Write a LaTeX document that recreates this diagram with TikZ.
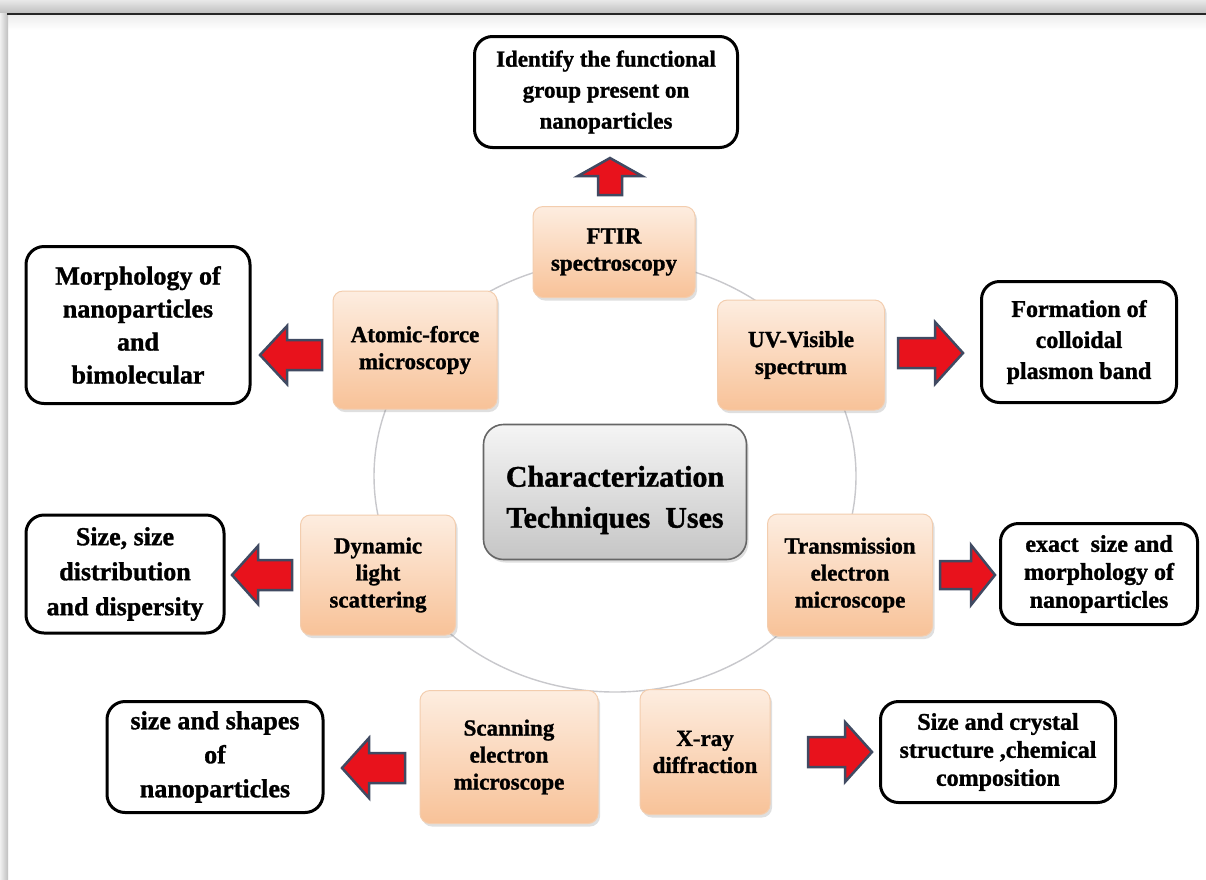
\documentclass[tikz,border=0pt]{standalone}
\usepackage{fontspec}
\setmainfont{Liberation Serif}[BoldFeatures={FakeBold=1.2}]
\usetikzlibrary{shadows,shapes.geometric}
\definecolor{arrred}{HTML}{E8121C}
\definecolor{arredge}{HTML}{404A62}
\definecolor{ringgray}{HTML}{C8C8CC}
\definecolor{oranget}{HTML}{FDEDE0}
\definecolor{orangeb}{HTML}{F8C298}
\definecolor{orangeline}{HTML}{F3CDAE}
\tikzset{
  tech/.style={rounded corners=10pt, draw=orangeline, line width=1pt,
    top color=oranget, bottom color=orangeb, align=center, inner sep=2pt,
    font=\fontsize{23}{27}\selectfont\bfseries,
    drop shadow={shadow xshift=2pt, shadow yshift=-3pt, opacity=0.25, fill=gray}},
  outbox/.style={rounded corners=18pt, draw=black, line width=3pt, fill=white,
    align=center, inner sep=2pt},
  centerbox/.style={rounded corners=20pt, draw=gray!80!black, line width=1.6pt,
    top color=gray!8, bottom color=gray!45,
    drop shadow={shadow xshift=2pt, shadow yshift=-3pt, opacity=0.25, fill=gray}},
  centertext/.style={align=center, yshift=-8pt,
    font=\fontsize{30}{41}\selectfont\bfseries},
  ring/.style={draw=ringgray, line width=1.4pt},
  arrowbody/.style={fill=arrred, draw=arredge, line width=2.5pt, line join=miter},
  pics/blockarrow/.style args={#1/#2/#3/#4}{code={
    \draw[arrowbody] (0,-#4) -- (#1-#2,-#4) -- (#1-#2,-#3) -- (#1,0)
      -- (#1-#2,#3) -- (#1-#2,#4) -- (0,#4) -- cycle;}}
}
\begin{document}
\begin{tikzpicture}[x=1pt,y=-1pt]
\useasboundingbox (0,0) rectangle (1206,879);
% frame
\fill[white] (0,0) rectangle (1206,879);
\shade[top color=gray!18, bottom color=gray!50] (0,0) rectangle (1206,13);
\shade[top color=gray!14, bottom color=white] (8,15) rectangle (1206,30);
\shade[left color=gray!12, right color=gray!50] (0,13) rectangle (8,879);
\draw[line width=2.5pt, black!85] (7,14) -- (1206,14);

% ring
\node[ring, ellipse, minimum width=482pt, minimum height=432pt, inner sep=0pt] (ringnode) at (615,476) {};

% central box
\node[centerbox, minimum width=263pt, minimum height=135pt,
  label={[centertext]center:{Characterization\\Techniques\ \ Uses}}] (center) at (615,492) {};

% technique boxes
\node[tech, minimum width=162pt, minimum height=91pt] (ftir) at (614,252) {FTIR\\spectroscopy};
\node[tech, minimum width=164pt, minimum height=118pt] (afm) at (415,350) {Atomic-force\\microscopy};
\node[tech, minimum width=167pt, minimum height=110pt] (uv) at (801,355) {UV-Visible\\spectrum};
\node[tech, minimum width=165pt, minimum height=122pt] (tem) at (850,575) {Transmission\\electron\\microscope};
\node[tech, minimum width=155pt, minimum height=120pt] (dls) at (378,575) {Dynamic\\light\\scattering};
\node[tech, minimum width=178pt, minimum height=133pt] (sem) at (509,757) {Scanning\\electron\\microscope};
\node[tech, minimum width=130pt, minimum height=125pt] (xrd) at (705,752) {X-ray\\diffraction};

% output boxes
\node[outbox, minimum width=263pt, minimum height=111pt, font=\fontsize{23}{31}\selectfont\bfseries] (oftir) at (606,92)
  {Identify the functional\\group present on\\nanoparticles};
\node[outbox, minimum width=224pt, minimum height=157pt, font=\fontsize{26}{33}\selectfont\bfseries] (oafm) at (138,325)
  {Morphology of\\nanoparticles\\and\\bimolecular};
\node[outbox, minimum width=195pt, minimum height=121pt, font=\fontsize{24}{31}\selectfont\bfseries] (ouv) at (1079,342)
  {Formation of\\colloidal\\plasmon band};
\node[outbox, minimum width=197pt, minimum height=101pt, font=\fontsize{24}{28}\selectfont\bfseries] (otem) at (1099,574)
  {exact\ \ size and\\morphology of\\nanoparticles};
\node[outbox, minimum width=198pt, minimum height=118pt, font=\fontsize{26}{35}\selectfont\bfseries] (odls) at (125,574)
  {Size, size\\distribution\\and dispersity};
\node[outbox, minimum width=216pt, minimum height=111pt, font=\fontsize{26}{34}\selectfont\bfseries] (osem) at (215,757)
  {size and shapes\\of\\nanoparticles};
\node[outbox, minimum width=235pt, minimum height=101pt, font=\fontsize{24}{28}\selectfont\bfseries] (oxrd) at (998,752)
  {Size and crystal\\structure ,chemical\\composition};

% block arrows
\pic[rotate=90] at (610,195) {blockarrow=37/18/32/12};
\pic[rotate=180] at (322,355) {blockarrow=62/27/29/15};
\pic at (898,353) {blockarrow=65/28/31/15};
\pic at (940,575) {blockarrow=55/24/30/14};
\pic[rotate=180] at (292,575) {blockarrow=60/26/29/15};
\pic[rotate=180] at (405,768) {blockarrow=63/27/30/15};
\pic at (808,752) {blockarrow=64/27/30/15};
\end{tikzpicture}
\end{document}
